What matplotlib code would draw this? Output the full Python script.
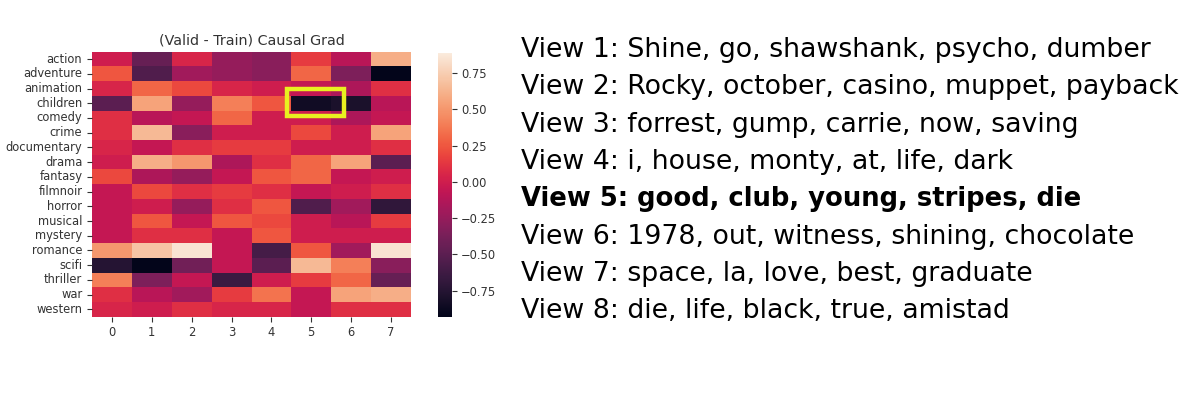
import numpy as np
import matplotlib
matplotlib.use('Agg')
import matplotlib.pyplot as plt
import seaborn as sns
from matplotlib.patches import Rectangle

genres = ['action', 'adventure', 'animation', 'children', 'comedy', 'crime',
          'documentary', 'drama', 'fantasy', 'filmnoir', 'horror', 'musical',
          'mystery', 'romance', 'scifi', 'thriller', 'war', 'western']
views = [0, 1, 2, 3, 4, 5, 6, 7]

# (valid - train) causal gradient, rows = genres, cols = views
grad = np.array([
    [ 0.00, -0.45,  0.05, -0.25, -0.30,  0.15, -0.10,  0.60],
    [ 0.25, -0.55, -0.20, -0.25, -0.30,  0.30, -0.35, -0.93],
    [ 0.05,  0.30,  0.20,  0.05,  0.00, -0.05, -0.15,  0.10],
    [-0.50,  0.55, -0.25,  0.40,  0.25, -0.85, -0.80, -0.10],
    [ 0.10, -0.10, -0.05,  0.30,  0.00,  0.00, -0.15, -0.05],
    [ 0.10,  0.65, -0.30,  0.00,  0.00,  0.20,  0.00,  0.55],
    [ 0.05, -0.05,  0.10,  0.15,  0.15,  0.00,  0.00,  0.10],
    [ 0.00,  0.60,  0.50, -0.15,  0.10,  0.30,  0.55, -0.50],
    [ 0.20, -0.15, -0.25, -0.05,  0.25,  0.30, -0.05,  0.00],
    [-0.05,  0.20,  0.10,  0.15,  0.10, -0.05,  0.00,  0.10],
    [-0.05,  0.00, -0.25,  0.10,  0.25, -0.55, -0.20, -0.70],
    [-0.05,  0.25, -0.05,  0.25,  0.20,  0.00, -0.10,  0.15],
    [-0.05,  0.10,  0.10, -0.05,  0.25,  0.00,  0.00,  0.00],
    [ 0.50,  0.70,  0.85, -0.05, -0.60,  0.25, -0.20,  0.85],
    [-0.75, -0.93, -0.40, -0.05, -0.50,  0.65,  0.40, -0.30],
    [ 0.40, -0.35, -0.05, -0.65,  0.00,  0.15,  0.30, -0.45],
    [ 0.10, -0.10, -0.20,  0.15,  0.35, -0.05,  0.55,  0.60],
    [ 0.05,  0.00,  0.10,  0.05,  0.05, -0.05,  0.10,  0.10],
])

view_words = [
    'View 1: Shine, go, shawshank, psycho, dumber',
    'View 2: Rocky, october, casino, muppet, payback',
    'View 3: forrest, gump, carrie, now, saving',
    'View 4: i, house, monty, at, life, dark',
    'View 5: good, club, young, stripes, die',
    'View 6: 1978, out, witness, shining, chocolate',
    'View 7: space, la, love, best, graduate',
    'View 8: die, life, black, true, amistad',
]
highlight = 4  # View 5 is bold

W, H = 1196, 398
fig = plt.figure(figsize=(W / 100, H / 100), dpi=100)

ax = fig.add_axes([92 / W, 1 - 316.7 / H, (411 - 92) / W, (316.7 - 51.7) / H])
cax = fig.add_axes([437.5 / W, 1 - 316.7 / H, 14 / W, (316.7 - 52.7) / H])

sns.heatmap(grad, ax=ax, cbar_ax=cax, cmap='rocket', vmin=-0.93, vmax=0.89,
            xticklabels=views, yticklabels=genres)
ax.set_title('(Valid - Train) Causal Grad', fontsize=10.3, color='#333333', pad=5)
ax.tick_params(axis='both', labelsize=8.3, colors='#333333')
ax.tick_params(axis='y', rotation=0)
cax.tick_params(labelsize=8.3, colors='#333333')
cax.set_yticks([-0.75, -0.5, -0.25, 0.0, 0.25, 0.5, 0.75])

# box around the children / view 5 cell
ax.add_patch(Rectangle((4.9, 2.55), 1.42, 1.85, fill=False,
                       edgecolor='#e8f020', linewidth=3.2, clip_on=False))

for i, line in enumerate(view_words):
    y = 1 - (57 + i * 37.3) / H
    bold = i == highlight
    fig.text(521 / W, y, line, fontsize=18.6 if bold else 19.3,
             family='DejaVu Sans', va='baseline', ha='left',
             fontweight='bold' if bold else 'normal')

fig.savefig('out.png', dpi=100)
